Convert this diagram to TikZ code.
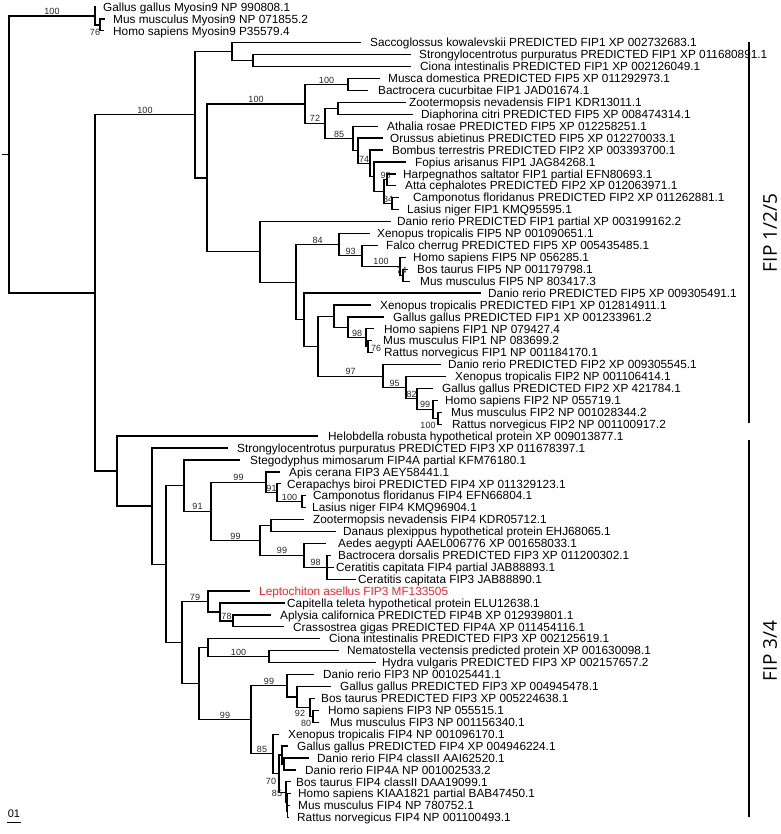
\documentclass[tikz,border=0pt]{standalone}
\usepackage{fontspec}
\setmainfont{Liberation Sans}
\newfontfamily\fipfont{Open Sans}
\usetikzlibrary{calc}
\definecolor{lepred}{RGB}{228,40,50}
\tikzset{
  br/.style={line width=1.25pt, line cap=rect},
  lf/.style={anchor=west, inner sep=0pt, text height=8.4pt, text depth=0pt, font=\fontsize{11.8}{13}\selectfont},
  bs/.style={inner sep=0.8pt, text height=6.5pt, text depth=0pt, font=\fontsize{9}{10}\selectfont, text=black!85},
  fip/.style={font=\fipfont\fontsize{19}{22}\selectfont, rotate=90, inner sep=0pt},
  barline/.style={line width=1.1pt}
}
\newcommand\leaf[5][]{%
  \coordinate (l#2) at (#3,{7+(#2-1)*11.92});
  \node[lf,#1] (t#2) at (#4,{7+(#2-1)*11.92}) {#5};}
\newcommand\tn[4]{%
  \path (#3) -- (#4) coordinate[pos=.5] (#1m);
  \coordinate (#1) at (#1m -| #2,0);
  \draw[br] (#3 -| #1) -- (#4 -| #1);}
\newcommand\te[2]{\draw[br] (#1 |- #2) -- (#2);}
\newcommand\tl[4][above]{\draw[br] (#2 |- #3) -- (#3) node[bs,midway,#1] (b#3) {#4};}
\begin{document}
\begin{tikzpicture}[x=1pt,y=-1pt]
\useasboundingbox (0,0) rectangle (780,834);
% leaves
\leaf{1}{95}{103}{Gallus gallus Myosin9 NP 990808.1}
\leaf{2}{104}{113}{Mus musculus Myosin9 NP 071855.2}
\leaf{3}{103}{113}{Homo sapiens Myosin9 P35579.4}
\leaf{4}{360}{370}{Saccoglossus kowalevskii PREDICTED FIP1 XP 002732683.1}
\leaf{5}{410}{419}{Strongylocentrotus purpuratus PREDICTED FIP1 XP 011680891.1}
\leaf{6}{410}{420}{Ciona intestinalis PREDICTED FIP1 XP 002126049.1}
\leaf{7}{379}{388}{Musca domestica PREDICTED FIP5 XP 011292973.1}
\leaf{8}{367}{378}{Bactrocera cucurbitae FIP1 JAD01674.1}
\leaf{9}{405}{409}{Zootermopsis nevadensis FIP1 KDR13011.1}
\leaf{10}{412}{421}{Diaphorina citri PREDICTED FIP5 XP 008474314.1}
\leaf{11}{377}{387}{Athalia rosae PREDICTED FIP5 XP 012258251.1}
\leaf{12}{382}{390}{Orussus abietinus PREDICTED FIP5 XP 012270033.1}
\leaf{13}{382}{392}{Bombus terrestris PREDICTED FIP2 XP 003393700.1}
\leaf{14}{405}{415}{Fopius arisanus FIP1 JAG84268.1}
\leaf{15}{395}{403}{Harpegnathos saltator FIP1 partial EFN80693.1}
\leaf{16}{395}{405}{Atta cephalotes PREDICTED FIP2 XP 012063971.1}
\leaf{17}{398}{413}{Camponotus floridanus PREDICTED FIP2 XP 011262881.1}
\leaf{18}{398}{407}{Lasius niger FIP1 KMQ95595.1}
\leaf{19}{390}{397}{Danio rerio PREDICTED FIP1 partial XP 003199162.2}
\leaf{20}{369}{377}{Xenopus tropicalis FIP5 NP 001090651.1}
\leaf{21}{377}{386}{Falco cherrug PREDICTED FIP5 XP 005435485.1}
\leaf{22}{405}{413}{Homo sapiens FIP5 NP 056285.1}
\leaf{23}{407}{417}{Bos taurus FIP5 NP 001179798.1}
\leaf{24}{409}{420}{Mus musculus FIP5 NP 803417.3}
\leaf{25}{480}{488}{Danio rerio PREDICTED FIP5 XP 009305491.1}
\leaf{26}{370}{380}{Xenopus tropicalis PREDICTED FIP1 XP 012814911.1}
\leaf{27}{383}{393}{Gallus gallus PREDICTED FIP1 XP 001233961.2}
\leaf{28}{373}{384}{Homo sapiens FIP1 NP 079427.4}
\leaf{29}{371}{383}{Mus musculus FIP1 NP 083699.2}
\leaf{30}{372}{384}{Rattus norvegicus FIP1 NP 001184170.1}
\leaf{31}{440}{448}{Danio rerio PREDICTED FIP2 XP 009305545.1}
\leaf{32}{445}{455}{Xenopus tropicalis FIP2 NP 001106414.1}
\leaf{33}{432}{442}{Gallus gallus PREDICTED FIP2 XP 421784.1}
\leaf{34}{437}{445}{Homo sapiens FIP2 NP 055719.1}
\leaf{35}{441}{451}{Mus musculus FIP2 NP 001028344.2}
\leaf{36}{441}{452}{Rattus norvegicus FIP2 NP 001100917.2}
\leaf{37}{317}{328}{Helobdella robusta hypothetical protein XP 009013877.1}
\leaf{38}{227}{237}{Strongylocentrotus purpuratus PREDICTED FIP3 XP 011678397.1}
\leaf{39}{239}{250}{Stegodyphus mimosarum FIP4A partial KFM76180.1}
\leaf{40}{279}{289}{Apis cerana FIP3 AEY58441.1}
\leaf{41}{280}{287}{Cerapachys biroi PREDICTED FIP4 XP 011329123.1}
\leaf{42}{305}{313}{Camponotus floridanus FIP4 EFN66804.1}
\leaf{43}{305}{312}{Lasius niger FIP4 KMQ96904.1}
\leaf{44}{303}{313}{Zootermopsis nevadensis FIP4 KDR05712.1}
\leaf{45}{335}{343}{Danaus plexippus hypothetical protein EHJ68065.1}
\leaf{46}{325}{338}{Aedes aegypti AAEL006776 XP 001658033.1}
\leaf{47}{330}{338}{Bactrocera dorsalis PREDICTED FIP3 XP 011200302.1}
\leaf{48}{333}{336}{Ceratitis capitata FIP4 partial JAB88893.1}
\leaf{49}{355}{358}{Ceratitis capitata FIP3 JAB88890.1}
\leaf[text=lepred]{50}{249}{259}{Leptochiton asellus FIP3 MF133505}
\leaf{51}{284}{287}{Capitella teleta hypothetical protein ELU12638.1}
\leaf{52}{270}{280}{Aplysia californica PREDICTED FIP4B XP 012939801.1}
\leaf{53}{283}{293}{Crassostrea gigas PREDICTED FIP4A XP 011454116.1}
\leaf{54}{319}{329}{Ciona intestinalis PREDICTED FIP3 XP 002125619.1}
\leaf{55}{338}{347}{Nematostella vectensis predicted protein XP 001630098.1}
\leaf{56}{375}{382}{Hydra vulgaris PREDICTED FIP3 XP 002157657.2}
\leaf{57}{313}{323}{Danio rerio FIP3 NP 001025441.1}
\leaf{58}{330}{340}{Gallus gallus PREDICTED FIP3 XP 004945478.1}
\leaf{59}{314}{321}{Bos taurus PREDICTED FIP3 XP 005224638.1}
\leaf{60}{318}{328}{Homo sapiens FIP3 NP 055515.1}
\leaf{61}{318}{330}{Mus musculus FIP3 NP 001156340.1}
\leaf{62}{278}{288}{Xenopus tropicalis FIP4 NP 001096170.1}
\leaf{63}{287}{297}{Gallus gallus PREDICTED FIP4 XP 004946224.1}
\leaf{64}{308}{317}{Danio rerio FIP4 classII AAI62520.1}
\leaf{65}{295}{305}{Danio rerio FIP4A NP 001002533.2}
\leaf{66}{290}{296}{Bos taurus FIP4 classII DAA19099.1}
\leaf{67}{290}{298}{Homo sapiens KIAA1821 partial BAB47450.1}
\leaf{68}{289}{298}{Mus musculus FIP4 NP 780752.1}
\leaf{69}{288}{297}{Rattus norvegicus FIP4 NP 001100493.1}
% internal nodes (bottom-up)
\tn{mh}{100}{l2}{l3}
\tn{myo}{95}{l1}{mh}
\tn{sc}{253}{l5}{l6}
\tn{C}{232}{l4}{sc}
\tn{mb}{348}{l7}{l8}
\tn{zd}{338}{l9}{l10}
\tn{nHA}{387}{l15}{l16}
\tn{nCL}{392}{l17}{l18}
\tn{nHC}{384}{nHA}{nCL}
\tn{nF}{374}{l14}{nHC}
\tn{nSF}{370}{l13}{nF}
\tn{nO}{358}{l12}{nSF}
\tn{nAt}{353}{l11}{nO}
\tn{nSZ}{325}{zd}{nAt}
\tn{E}{305}{mb}{nSZ}
\tn{bm}{403}{l23}{l24}
\tn{hbm}{400}{l22}{bm}
\tn{fal}{362}{l21}{hbm}
\tn{x5}{339}{l20}{fal}
\tn{M}{368}{l29}{l30}
\tn{L}{366}{l28}{M}
\tn{K}{348}{l27}{L}
\tn{J}{334}{l26}{K}
\tn{mr2}{438}{l35}{l36}
\tn{h2}{433}{l34}{mr2}
\tn{g2}{417}{l33}{h2}
\tn{x2}{406}{l32}{g2}
\tn{N}{383}{l31}{x2}
\tn{I}{318}{J}{N}
\tn{H}{304}{l25}{I}
\tn{G}{296}{x5}{H}
\tn{F}{260}{l19}{G}
\tn{D}{207}{E}{F}
\tn{B}{195}{C}{D}
\tn{cl4}{302}{l42}{l43}
\tn{cer}{277}{l41}{cl4}
\tn{hym}{266}{l40}{cer}
\tn{zd2}{271}{l44}{l45}
\tn{cer3}{327}{l47}{l49}
\tn{dip}{304}{l46}{cer3}
\tn{ins}{260}{zd2}{dip}
\tn{arth}{211}{hym}{ins}
\tn{S}{184}{l39}{arth}
\tn{moll}{233}{l52}{l53}
\tn{U}{220}{l51}{moll}
\tn{lep}{208}{l50}{U}
\tn{cn}{269}{l55}{l56}
\tn{W}{208}{l54}{cn}
\tn{hm3}{313}{l60}{l61}
\tn{b3}{310}{l59}{hm3}
\tn{g3}{297}{l58}{b3}
\tn{f3}{287}{l57}{g3}
\tn{mr}{287.5}{l68}{l69}
\tn{hmr}{287}{l67}{mr}
\tn{mam}{286}{l66}{hmr}
\tn{dd}{284}{l64}{l65}
\tn{gd}{282}{l63}{dd}
\tn{n70}{279}{gd}{mam}
\tn{f4}{273}{l62}{n70}
\tn{vert}{251}{f3}{f4}
\tn{V}{199}{W}{vert}
\tn{T}{182}{lep}{V}
\tn{R}{166}{S}{T}
\tn{Q}{152}{l38}{R}
\tn{P}{117}{l37}{Q}
\tn{A}{95}{B}{P}
\tn{root}{9}{myo}{A}
% edges
\coordinate (rs) at ($(root)+(-6,0)$);
\draw[br] (rs) -- (root);
\tl{root}{myo}{100} \te{root}{A}
\te{myo}{l1} \te{myo}{mh} \te{mh}{l2} \te{mh}{l3}
\node[bs] (bmh) at (95,32) {76};
\tl{A}{B}{100} \te{A}{P}
\te{B}{C} \te{B}{D}
\te{C}{l4} \te{C}{sc} \te{sc}{l5} \te{sc}{l6}
\tl{D}{E}{100} \te{D}{F}
\tl{E}{mb}{100} \tl{E}{nSZ}{72}
\te{mb}{l7} \te{mb}{l8}
\te{nSZ}{zd} \tl{nSZ}{nAt}{85}
\te{zd}{l9} \te{zd}{l10}
\te{nAt}{l11} \te{nAt}{nO}
\te{nO}{l12} \tl{nO}{nSF}{74}
\te{nSF}{l13} \te{nSF}{nF}
\te{nF}{l14} \te{nF}{nHC}
\tl{nHC}{nHA}{98} \tl{nHC}{nCL}{84}
\te{nHA}{l15} \te{nHA}{l16} \te{nCL}{l17} \te{nCL}{l18}
\te{F}{l19} \te{F}{G}
\tl{G}{x5}{84} \te{G}{H}
\te{x5}{l20} \tl{x5}{fal}{93}
\te{fal}{l21} \tl{fal}{hbm}{100}
\te{hbm}{l22} \tl{hbm}{bm}{74}
\te{bm}{l23} \te{bm}{l24}
\te{H}{l25} \te{H}{I}
\te{I}{J} \tl{I}{N}{97}
\te{J}{l26} \te{J}{K}
\te{K}{l27} \tl{K}{L}{98}
\te{L}{l28} \te{L}{M}
\node[bs] (bM) at (376,348) {76};
\te{M}{l29} \te{M}{l30}
\te{N}{l31} \tl{N}{x2}{95}
\te{x2}{l32} \tl{x2}{g2}{82}
\te{g2}{l33} \tl{g2}{h2}{99}
\te{h2}{l34} \te{h2}{mr2}
\node[bs] (bmr2) at (428,425) {100};
\te{mr2}{l35} \te{mr2}{l36}
\te{P}{l37} \te{P}{Q}
\te{Q}{l38} \te{Q}{R}
\te{R}{S} \te{R}{T}
\te{S}{l39} \tl{S}{arth}{91}
\tl{arth}{hym}{99} \tl{arth}{ins}{99}
\te{hym}{l40} \tl{hym}{cer}{91}
\te{cer}{l41} \tl{cer}{cl4}{100}
\te{cl4}{l42} \te{cl4}{l43}
\te{ins}{zd2} \tl{ins}{dip}{99}
\te{zd2}{l44} \te{zd2}{l45}
\te{dip}{l46} \tl{dip}{cer3}{98}
\te{cer3}{l47} \te{cer3}{l48} \te{cer3}{l49}
\tl{T}{lep}{79} \te{T}{V}
\te{lep}{l50} \te{lep}{U}
\te{U}{l51} \tl{U}{moll}{78}
\te{moll}{l52} \te{moll}{l53}
\te{V}{W} \tl{V}{vert}{99}
\te{W}{l54} \tl{W}{cn}{100}
\te{cn}{l55} \te{cn}{l56}
\tl{vert}{f3}{99} \tl{vert}{f4}{85}
\te{f3}{l57} \te{f3}{g3}
\te{g3}{l58} \te{g3}{b3}
\node[bs] (bb3) at (300,713) {92};
\te{b3}{l59} \te{b3}{hm3}
\node[bs] (bhm3) at (306,723) {80};
\te{hm3}{l60} \te{hm3}{l61}
\te{f4}{l62} \te{f4}{n70}
\node[bs] (bn70) at (271,781) {70};
\te{n70}{gd} \te{n70}{mam}
\te{gd}{l63} \te{gd}{dd}
\te{dd}{l64} \te{dd}{l65}
\te{mam}{l66} \te{mam}{hmr}
\node[bs] (bhmr) at (277,793) {85};
\te{hmr}{l67} \te{hmr}{mr}
\te{mr}{l68} \te{mr}{l69}
% clade bars
\coordinate (bar1t) at (749,42);
\coordinate (bar1b) at (749,423);
\coordinate (bar2t) at (749,440);
\coordinate (bar2b) at (749,817);
\draw[barline] (bar1t) -- (bar1b);
\draw[barline] (bar2t) -- (bar2b);
\node[fip] (fip1) at (770,233) {FIP 1/2/5};
\node[fip] (fip2) at (770,651) {FIP 3/4};
% scale
\coordinate (sca) at (7,822);
\coordinate (scb) at (21,822);
\draw[line width=0.9pt] (sca) -- (scb);
\node[inner sep=0pt, font=\fontsize{11}{12}\selectfont] (scl) at (14,814) {01};
\end{tikzpicture}
\end{document}
